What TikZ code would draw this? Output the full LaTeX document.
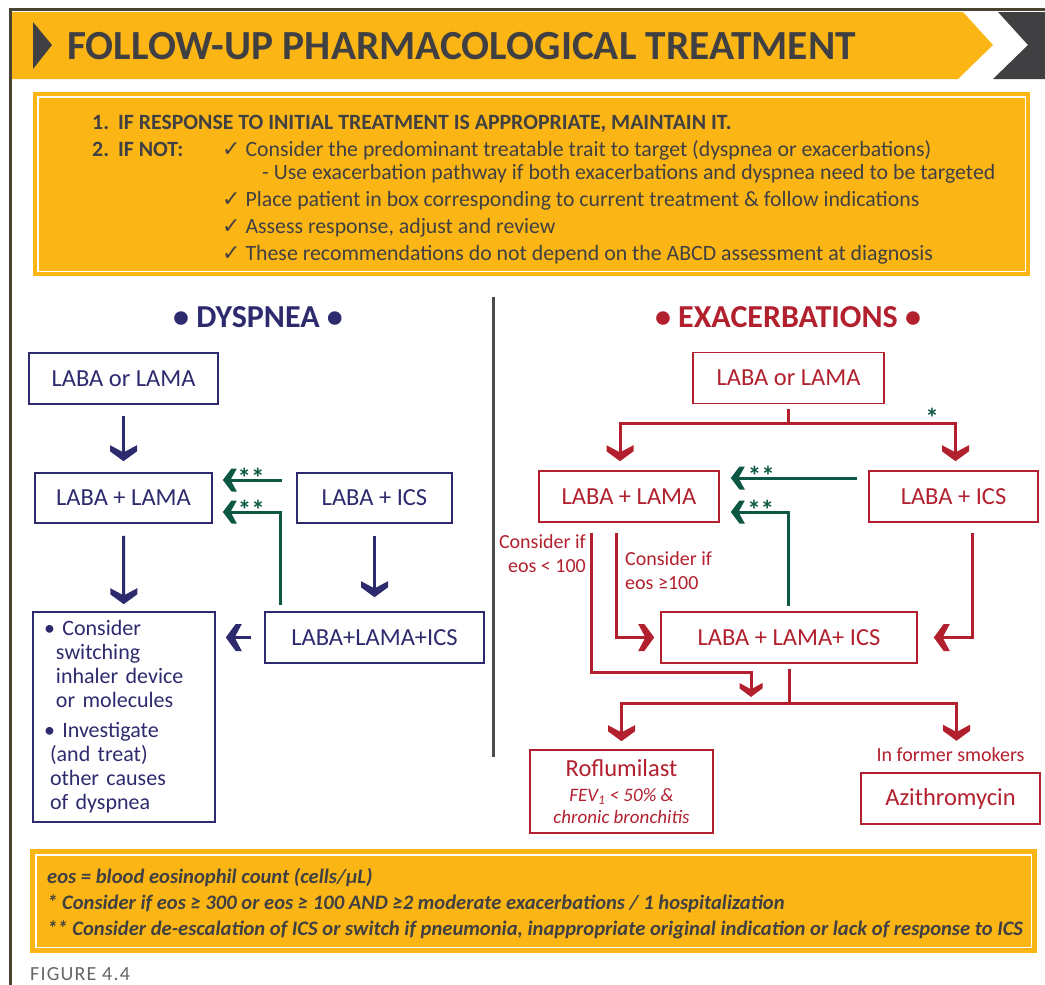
\documentclass[tikz,border=0pt]{standalone}
\usepackage{fontspec}
\setmainfont{Carlito}
\newfontfamily\symfont{DejaVu Sans}
\usetikzlibrary{positioning,calc}

\definecolor{goldyellow}{RGB}{251,182,22}
\definecolor{dysnavy}{RGB}{45,42,110}
\definecolor{exared}{RGB}{178,32,46}
\definecolor{escgreen}{RGB}{13,88,68}
\definecolor{framebrown}{RGB}{74,67,49}
\definecolor{headgray}{RGB}{64,64,66}

\newcommand{\smallit}{\itshape\fontsize{19}{20}\selectfont}
\newcommand{\tick}{{\symfont\fontsize{22}{24}\selectfont ✓}}

\tikzset{
  % heavy chevrons, pointing along +x, tip #1 before the end point
  bigchev/.pic={\fill[shorten >=0pt, shorten <=0pt] (-#1,0) -- ++(-9.9,13.5) -- ++(-6.1,0) -- ++(7.2,-13.5) -- ++(-7.2,-13.5) -- ++(6.1,0) -- cycle;},
  smallchev/.pic={\fill[shorten >=0pt, shorten <=0pt] (-#1,0) -- ++(-8.7,11.5) -- ++(-5.3,0) -- ++(6.3,-11.5) -- ++(-6.3,-11.5) -- ++(5.3,0) -- cycle;},
  dysbox/.style={draw=dysnavy, line width=1.6pt, text=dysnavy, inner sep=0pt,
    font=\fontsize{24.5}{26}\selectfont},
  exabox/.style={draw=exared, line width=1.6pt, text=exared, inner sep=0pt,
    font=\fontsize{24.5}{26}\selectfont},
  exatxt/.style={text=exared, inner sep=0pt, font=\fontsize{20}{24}\selectfont},
  dysline/.style={draw=dysnavy, line width=3pt},
  exaline/.style={draw=exared, line width=3pt},
  escline/.style={draw=escgreen, line width=3pt},
  stars/.style={text=escgreen, inner sep=0pt, font=\bfseries\fontsize{27}{27}\selectfont},
}

\begin{document}
\begin{tikzpicture}[x=1pt, y=-1pt]
\useasboundingbox (0,0) rectangle (1045,985);

	% frame and header band
	\draw[framebrown, line width=3pt] (1045,9) -- (10,9) -- (10,985);
	\fill[goldyellow] (12,12) -- (963,12) -- (993,45) -- (958,79) -- (12,79) -- cycle;
	\fill[headgray] (998,12) -- (1045,12) -- (1045,79) -- (993,79) -- (1028,45) -- cycle;
	\fill[headgray] (33,22) -- (52,45) -- (33,69) -- cycle;
	\node[anchor=west, inner sep=0pt, text=headgray, font=\bfseries\fontsize{41.4}{44}\selectfont] (title) at (67,46) {FOLLOW-UP PHARMACOLOGICAL TREATMENT};

	% instructions box
	\node[fill=goldyellow, anchor=north west, minimum width=997pt, minimum height=184pt, inner sep=0pt] (stepsbox) at (33,92) {};
	\draw[white, line width=1.2pt] ([shift={(5pt,-5pt)}]stepsbox.north west) rectangle ([shift={(-5pt,5pt)}]stepsbox.south east);
	\begin{scope}[every node/.style={anchor=base west, inner sep=0pt, text=headgray, font=\fontsize{21.8}{24}\selectfont}]
		\node[font=\bfseries\fontsize{21.8}{24}\selectfont] (step1) at (92,129) {1.\hspace{9pt}IF RESPONSE TO INITIAL TREATMENT IS APPROPRIATE, MAINTAIN IT.};
		\node[font=\bfseries\fontsize{21.8}{24}\selectfont] (step2) at (92,156) {2.\hspace{9pt}IF NOT:};
		\node (check1) at (222,156) {\tick\ Consider the predominant treatable trait to target (dyspnea or exacerbations)};
		\node (check1b) at (262,179) {- Use exacerbation pathway if both exacerbations and dyspnea need to be targeted};
		\node (check2) at (222,206) {\tick\ Place patient in box corresponding to current treatment \& follow indications};
		\node (check3) at (222,233) {\tick\ Assess response, adjust and review};
		\node (check4) at (222,260) {\tick\ These recommendations do not depend on the ABCD assessment at diagnosis};
	\end{scope}

	% divider
	\draw[black!70, line width=3pt] (493,297) -- (493,757);

	% dyspnea pathway
	\node[text=dysnavy, font=\bfseries\fontsize{32}{34}\selectfont] (dystitle) at (258,317) {• DYSPNEA •};
	\node[dysbox, minimum width=189pt, minimum height=51pt] (dlaba) at (123.5,378.5) {LABA or LAMA};
	\node[dysbox, minimum width=177pt, minimum height=50pt] (dlama) at (123.5,498) {LABA + LAMA};
	\node[dysbox, minimum width=155pt, minimum height=50pt] (dics) at (374.5,498) {LABA + ICS};
	\node[dysbox, minimum width=219pt, minimum height=51pt] (dtri) at (374.5,637.5) {LABA+LAMA+ICS};
	\node[dysbox, minimum width=182pt, minimum height=210pt, text width=160pt, align=left,
		font=\fontsize{22}{24}\selectfont] (dother) at (124,717) {%
		• Consider\\
		\hspace*{12pt}switching\\
		\hspace*{12pt}inhaler device\\
		\hspace*{12pt}or molecules\\[6pt]
		• Investigate\\
		\hspace*{6pt}(and treat)\\
		\hspace*{6pt}other causes\\
		\hspace*{6pt}of dyspnea};

	\draw[dysline, shorten <=11pt, shorten >=15pt] (dlaba) -- (dlama) pic[pos=1, rotate=-90, dysnavy] {bigchev=11};
	\draw[dysline, shorten <=12pt, shorten >=11pt] (dlama) -- (dother) pic[pos=1, rotate=-90, dysnavy] {bigchev=7};
	\draw[dysline, shorten <=12pt, shorten >=18pt] (dics) -- (dtri) pic[pos=1, rotate=-90, dysnavy] {bigchev=14};
	\draw[dysline, shorten <=13pt, shorten >=14pt] (dtri.west) -- (dtri.west -| dother.east) pic[pos=1, rotate=180, dysnavy] {bigchev=10};
	\draw[escline, shorten <=14pt, shorten >=14pt] ([yshift=18pt]dics.west) -- ([yshift=18pt]dics.west -| dlama.east)
		node[stars, pos=0.54, anchor=south, yshift=-9pt] (dstar1) {**}
		pic[pos=1, rotate=180, escgreen] {smallchev=10};
	\draw[escline, shorten <=6pt, shorten >=14pt] ([xshift=-94pt]dtri.north) |- ([yshift=-14pt]dlama.east)
		node[stars, pos=0.715, anchor=south, yshift=-9pt] (dstar2) {**}
		pic[pos=1, rotate=180, escgreen] {smallchev=10};

	% exacerbation pathway
	\node[text=exared, font=\bfseries\fontsize{32}{34}\selectfont] (exatitle) at (788,317) {• EXACERBATIONS •};
	\node[exabox, minimum width=191pt, minimum height=51pt] (elaba) at (788.5,378) {LABA or LAMA};
	\node[exabox, minimum width=180pt, minimum height=51pt] (elama) at (629,496.5) {LABA + LAMA};
	\node[exabox, minimum width=169pt, minimum height=51pt] (eics) at (953.5,496.5) {LABA + ICS};
	\node[exabox, minimum width=256pt, minimum height=51pt] (etri) at (789,637.5) {LABA + LAMA+ ICS};
	\node[exabox, minimum width=183pt, minimum height=83pt, align=center] (erof) at (621.5,791.5)
		{Roflumilast\\[-1pt]\smallit FEV\textsubscript{1} < 50\% \&\\[-4pt]\smallit chronic bronchitis};
	\node[exabox, minimum width=179pt, minimum height=51pt] (eazi) at (950.5,798.5) {Azithromycin};
	\node[exatxt, above=10pt of eazi] (esmok) {In former smokers};
	\node[exatxt, align=right, anchor=north east] (elow) at (586,534) {Consider if\\eos < 100};
	\node[exatxt, align=left, anchor=north west] (ehigh) at (625,551) {Consider if\\eos ≥100};

	\coordinate (esplit) at (788.5,423);
	\coordinate (ebend) at (751,672);
	\coordinate (ejoin) at (751,703);
	\coordinate (esplit2) at (789,703);

	\draw[exaline, shorten <=5pt] (elaba) -- (esplit);
	\draw[exaline, shorten >=13pt] (esplit) -| ([xshift=-9pt]elama.north) pic[pos=1, rotate=-90, exared] {bigchev=9};
	\draw[exaline, shorten >=13pt] (esplit) -| ([xshift=2pt]eics.north)
		node[stars, pos=0.43, anchor=south, yshift=-6pt] (estar) {*}
		pic[pos=1, rotate=-90, exared] {bigchev=9};
	\draw[exaline, shorten <=10pt, shorten >=10pt] ([xshift=-38pt]elama.south) |- (ebend) -- (ejoin) pic[pos=1, rotate=-90, exared] {smallchev=6};
	\draw[exaline, shorten <=10pt, shorten >=10pt] ([xshift=-13pt]elama.south) |- (etri.west) pic[pos=1, exared] {bigchev=6};
	\draw[exaline, shorten <=10pt, shorten >=20pt] ([xshift=18.5pt]eics.south) |- (etri.east) pic[pos=1, rotate=180, exared] {bigchev=16};
	\draw[exaline, shorten <=5pt] (etri) -- (esplit2);
	\draw[exaline, shorten >=12pt] (esplit2) -| (erof.north) pic[pos=1, rotate=-90, exared] {bigchev=8};
	\draw[exaline, shorten >=11pt] (esplit2) -| ([xshift=6pt]esmok.north) pic[pos=1, rotate=-90, exared] {bigchev=7};
	\draw[escline, shorten <=11pt, shorten >=15pt] ([yshift=18.5pt]eics.west) -- ([yshift=18.5pt]eics.west -| elama.east)
		node[stars, pos=0.72, anchor=south, yshift=-9pt] (estar1) {**}
		pic[pos=1, rotate=180, escgreen] {smallchev=11};
	\draw[escline, shorten <=5pt, shorten >=15pt] ([xshift=-1pt]etri.north) |- ([yshift=-15.5pt]elama.east)
		node[stars, pos=0.70, anchor=south, yshift=-9pt] (estar2) {**}
		pic[pos=1, rotate=180, escgreen] {smallchev=11};

	% footnotes box
	\node[fill=goldyellow, anchor=north west, minimum width=1007pt, minimum height=104pt, inner sep=0pt] (notebox) at (30,849) {};
	\draw[white, line width=1.2pt] ([shift={(6pt,-6pt)}]notebox.north west) rectangle ([shift={(-6pt,6pt)}]notebox.south east);
	\begin{scope}[every node/.style={anchor=base west, inner sep=0pt, text=headgray, font=\bfseries\itshape\fontsize{20.6}{22}\selectfont}]
		\node (note1) at (47,883) {eos = blood eosinophil count (cells/µL)};
		\node (note2) at (47,909) {* Consider if eos ≥ 300 or eos ≥ 100 AND ≥2 moderate exacerbations / 1 hospitalization};
		\node (note3) at (47,935) {** Consider de-escalation of ICS or switch if pneumonia, inappropriate original indication or lack of response to ICS};
	\end{scope}
	\node[anchor=base west, inner sep=0pt, text=black!60, font=\fontsize{20}{22}\selectfont\addfontfeature{LetterSpace=6}] (figlabel) at (30,980) {FIGURE 4.4};

\end{tikzpicture}
\end{document}
